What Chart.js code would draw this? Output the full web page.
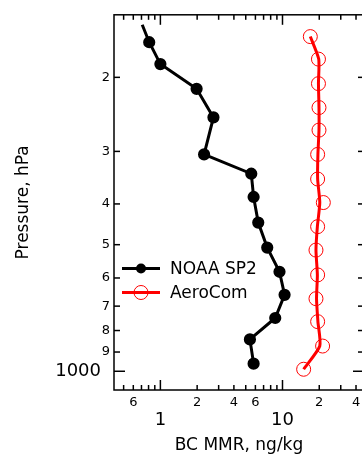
<!DOCTYPE html>
<html>
<head>
<meta charset="utf-8">
<script src="https://cdn.jsdelivr.net/npm/chart.js@4.4.1/dist/chart.umd.min.js"></script>
<style>
    html, body { margin: 0; padding: 0; background: #fff; }
    #wrap { width: 362px; height: 454px; overflow: hidden; }
    canvas { display: block; }
</style>
</head>
<body>
<div id="wrap"><canvas id="profile" width="372" height="460"></canvas></div>
<script>
// perfil vertical de BC: NOAA SP2 vs AeroCom
const noaaPressure = [150, 165, 186, 213, 249, 305, 339, 385, 443, 508, 580, 658, 747, 840, 959];
const noaaMmr = [0.71, 0.81, 1.0, 1.98, 2.72, 2.28, 5.55, 5.8, 6.33, 7.5, 9.45, 10.4, 8.72, 5.41, 5.8];

const aerocomPressure = [160, 181, 207, 236, 267, 305, 349, 397, 453, 515, 590, 672, 762, 871, 989];
const aerocomLineMmr = [16.9, 19.8, 19.7, 19.9, 19.9, 19.5, 19.4, 20.2, 19.3, 18.8, 19.3, 19.0, 19.5, 20.2, 14.9];
const aerocomMarkerMmr = [16.9, 19.7, 19.7, 19.9, 19.9, 19.4, 19.4, 21.6, 19.4, 18.8, 19.4, 18.8, 19.4, 21.3, 14.9];

const xTickValues = [0.5, 0.6, 0.7, 0.8, 0.9, 1, 2, 3, 4, 5, 6, 7, 8, 9, 10, 20, 30, 40];
const xTickLabels = ['', '6', '', '', '', '1', '2', '', '4', '', '6', '', '', '', '10', '2', '', '4'];
const xDecades = [1, 10];

const yTickValues = [200, 300, 400, 500, 600, 700, 800, 900, 1000];
const yTickLabels = ['2', '3', '4', '5', '6', '7', '8', '9', '1000\u2002'];

const legendLabels = ['NOAA SP2', 'AeroCom'];

const FONT = 'DejaVu Sans';
Chart.defaults.color = '#000';
Chart.defaults.font.family = FONT;

function toPoints(xs, ys) {
    return xs.map((v, i) => ({ x: v, y: ys[i] }));
}

// marco, ticks hacia adentro, etiquetas del eje x y leyenda
const frameTicks = {
    id: 'frameTicks',
    afterDraw(chart) {
        const { ctx, chartArea: a, scales: { x, y } } = chart;
        ctx.save();
        ctx.strokeStyle = '#000';
        ctx.lineWidth = 1.5;
        ctx.strokeRect(a.left, a.top, a.right - a.left, a.bottom - a.top);

        function seg(x1, y1, x2, y2) {
            ctx.beginPath();
            ctx.moveTo(x1, y1);
            ctx.lineTo(x2, y2);
            ctx.stroke();
        }

        ctx.fillStyle = '#000';
        ctx.textAlign = 'center';
        ctx.textBaseline = 'alphabetic';
        xTickValues.forEach((v, i) => {
            const px = x.getPixelForValue(v);
            const major = xDecades.includes(v);
            const len = major ? 10 : 5;
            seg(px, a.bottom, px, a.bottom - len);
            seg(px, a.top, px, a.top + len);
            if (xTickLabels[i]) {
                if (major) {
                    ctx.font = '18px "' + FONT + '"';
                    ctx.fillText(xTickLabels[i], px, a.bottom + 34.5);
                } else {
                    ctx.font = '13px "' + FONT + '"';
                    ctx.fillText(xTickLabels[i], px, a.bottom + 16);
                }
            }
        });

        yTickValues.forEach(v => {
            const py = y.getPixelForValue(v);
            const len = v === 1000 ? 11 : 6;
            seg(a.left, py, a.left + len, py);
            seg(a.right, py, a.right - len, py);
        });

        // leyenda
        const lx1 = 122, lx2 = 160, mx = 141;
        const rows = [268.5, 292.5];
        ctx.lineWidth = 3;
        ctx.strokeStyle = '#000';
        seg(lx1, rows[0], lx2, rows[0]);
        ctx.beginPath();
        ctx.arc(mx, rows[0], 5, 0, Math.PI * 2);
        ctx.fill();

        ctx.strokeStyle = '#ff0000';
        seg(lx1, rows[1], lx2, rows[1]);
        ctx.lineWidth = 1;
        ctx.beginPath();
        ctx.arc(mx, rows[1], 7, 0, Math.PI * 2);
        ctx.stroke();

        ctx.font = '17px "' + FONT + '"';
        ctx.textAlign = 'left';
        ctx.textBaseline = 'middle';
        ctx.fillStyle = '#000';
        ctx.fillText(legendLabels[0], 170, rows[0] + 1);
        ctx.fillText(legendLabels[1], 170, rows[1] + 1);
        ctx.restore();
    }
};

document.addEventListener("DOMContentLoaded", function () {
    const canvas = document.getElementById("profile").getContext("2d");

    new Chart(canvas, {
        type: 'scatter',
        data: {
            datasets: [
                {
                    label: 'AeroCom',
                    data: toPoints(aerocomLineMmr, aerocomPressure),
                    showLine: true,
                    borderColor: '#ff0000',
                    borderWidth: 3,
                    pointRadius: 0,
                    tension: 0.2
                },
                {
                    label: 'AeroCom markers',
                    data: toPoints(aerocomMarkerMmr, aerocomPressure),
                    showLine: false,
                    borderColor: '#ff0000',
                    backgroundColor: 'rgba(0,0,0,0)',
                    pointBorderWidth: 1,
                    pointRadius: 7
                },
                {
                    label: 'NOAA SP2',
                    data: toPoints(noaaMmr, noaaPressure),
                    showLine: true,
                    borderColor: '#000',
                    backgroundColor: '#000',
                    borderWidth: 3,
                    pointRadius: ctx => ctx.dataIndex === 0 ? 0 : 4.6,
                    tension: 0
                }
            ]
        },
        options: {
            responsive: false,
            animation: false,
            devicePixelRatio: 1,
            layout: { padding: { left: 0, top: 12, right: 7, bottom: 0 } },
            plugins: {
                legend: { display: false },
                tooltip: { enabled: false }
            },
            scales: {
                x: {
                    type: 'logarithmic',
                    position: 'bottom',
                    min: 0.417,
                    max: 46.5,
                    grid: { display: false, drawTicks: false },
                    border: { display: false },
                    ticks: { display: false },
                    title: {
                        display: true,
                        text: 'BC MMR, ng/kg',
                        font: { size: 17 },
                        padding: { top: 0, bottom: 4 }
                    },
                    afterFit: scale => { scale.height = 70; }
                },
                y: {
                    type: 'logarithmic',
                    position: 'left',
                    reverse: true,
                    min: 142,
                    max: 1108,
                    grid: { display: false, drawTicks: false },
                    border: { display: false },
                    afterBuildTicks: scale => {
                        scale.ticks = yTickValues.map(v => ({ value: v }));
                    },
                    ticks: {
                        autoSkip: false,
                        padding: 4,
                        font: ctx => ({ size: ctx.tick && ctx.tick.value === 1000 ? 18 : 13 }),
                        callback: (value, index) => yTickLabels[index]
                    },
                    title: {
                        display: true,
                        text: 'Pressure, hPa',
                        font: { size: 17 },
                        padding: { top: 13, bottom: 0 }
                    },
                    afterFit: scale => { scale.width = 114; }
                }
            }
        },
        plugins: [frameTicks]
    });
});
</script>
</body>
</html>
